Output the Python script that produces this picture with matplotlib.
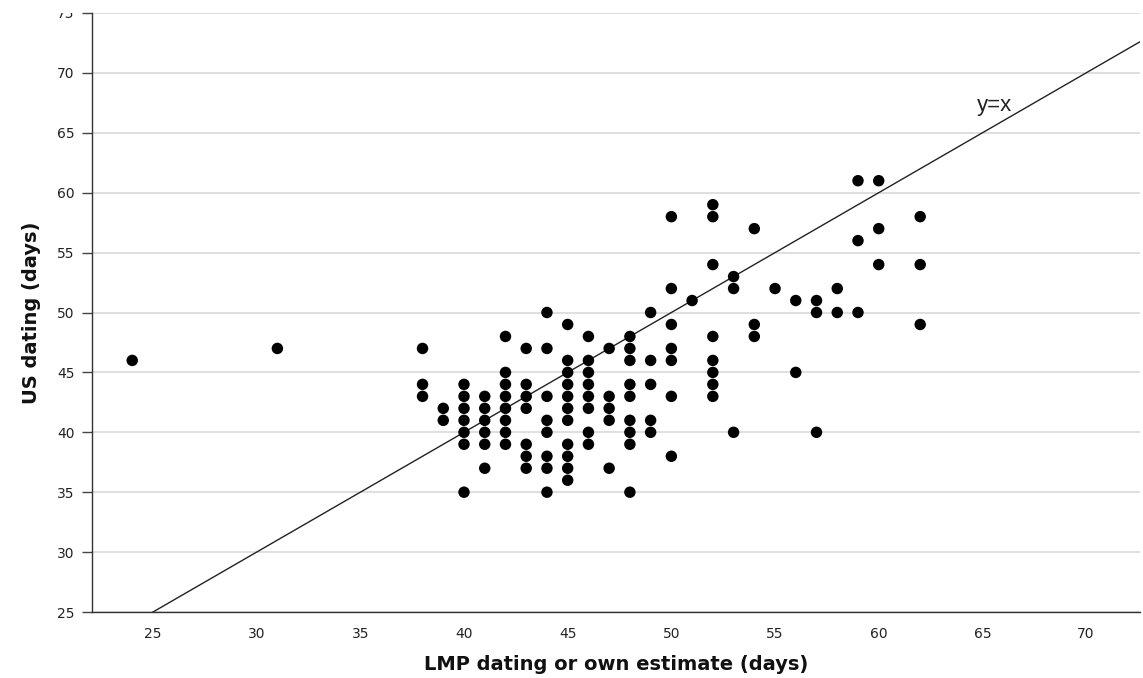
import matplotlib
matplotlib.use("Agg")
import matplotlib.pyplot as plt
from matplotlib.transforms import Bbox, TransformedBbox

# Data (LMP dating x, US dating y)
lmp_days = [24, 31,
            38, 38, 38,
            39, 39,
            40, 40, 40, 40, 40, 40, 40,
            41, 41, 41, 41, 41, 41,
            42, 42, 42, 42, 42, 42, 42, 42,
            43, 43, 43, 43, 43, 43, 43,
            44, 44, 44, 44, 44, 44, 44, 44,
            45, 45, 45, 45, 45, 45, 45, 45, 45, 45, 45,
            46, 46, 46, 46, 46, 46, 46, 46,
            47, 47, 47, 47, 47,
            48, 48, 48, 48, 48, 48, 48, 48, 48,
            49, 49, 49, 49, 49,
            50, 50, 50, 50, 50, 50, 50,
            51,
            52, 52, 52, 52, 52, 52, 52, 52,
            53, 53, 53,
            54, 54, 54,
            55,
            56, 56,
            57, 57, 57,
            58, 58,
            59, 59, 59,
            60, 60, 60,
            62, 62, 62]
us_days = [46, 47,
           47, 44, 43,
           42, 41,
           44, 43, 42, 41, 40, 39, 35,
           43, 42, 41, 40, 39, 37,
           48, 45, 44, 43, 42, 41, 40, 39,
           47, 44, 43, 42, 39, 38, 37,
           50, 47, 43, 41, 40, 38, 37, 35,
           49, 46, 45, 44, 43, 42, 41, 39, 38, 37, 36,
           48, 46, 45, 44, 43, 42, 40, 39,
           47, 43, 42, 41, 37,
           48, 47, 46, 44, 43, 41, 40, 39, 35,
           50, 46, 44, 41, 40,
           58, 52, 49, 47, 46, 43, 38,
           51,
           59, 58, 54, 48, 46, 45, 44, 43,
           53, 52, 40,
           57, 49, 48,
           52,
           51, 45,
           51, 50, 40,
           52, 50,
           61, 56, 50,
           61, 57, 54,
           58, 54, 49]

x_ticks = [25, 30, 35, 40, 45, 50, 55, 60, 65, 70]
y_ticks = [25, 30, 35, 40, 45, 50, 55, 60, 65, 70, 75]

W, H = 1143, 678
fig = plt.figure(figsize=(W / 100, H / 100), dpi=100)
ax = fig.add_axes([92 / W, (H - 612) / H, (1140 - 92) / W, (612 - 13) / H])

ax.set_xlim(22.06, 72.6)
ax.set_ylim(25, 75)

for yv in y_ticks:
    ax.axhline(yv, color="#d6d6d6", lw=1.1, zorder=0)

ax.axline((25, 25), slope=1, color="#222222", lw=1.0, zorder=2)
ax.scatter(lmp_days, us_days, s=68, color="black", edgecolors="none", zorder=3)

ax.text(65.6, 67.3, "y=x", fontsize=16, color="#222222", ha="center", va="center",
        family="Liberation Sans")

ax.set_xticks(x_ticks)
ax.set_yticks(y_ticks)
ax.tick_params(axis="x", length=0, pad=11, labelsize=10, labelcolor="#222222")
ax.tick_params(axis="y", length=7.2, width=1, color="#444444", pad=5.5,
               labelsize=10, labelcolor="#222222")

for side in ["top", "right"]:
    ax.spines[side].set_visible(False)
for side in ["left", "bottom"]:
    ax.spines[side].set_color("#333333")
    ax.spines[side].set_linewidth(1.0)

ax.set_xlabel("LMP dating or own estimate (days)", fontsize=14, fontweight="bold",
              color="#111111")
ax.set_ylabel("US dating (days)", fontsize=14, fontweight="bold", color="#111111")
ax.xaxis.set_label_coords(0.5, -(665 - 612) / 599)
ax.xaxis.label.set_va("center")
ax.yaxis.set_label_coords((32 - 92) / 1048, 0.5)
ax.yaxis.label.set_va("center")

# the top tick label is clipped at the top of the plot frame, as in the reference
top_lbl = ax.yaxis.get_major_ticks()[-1].label1
top_lbl.set_clip_box(TransformedBbox(Bbox([[0, 0], [1, (H - 13) / H]]), fig.transFigure))
top_lbl.set_clip_on(True)

fig.savefig("out.png", dpi=100)
